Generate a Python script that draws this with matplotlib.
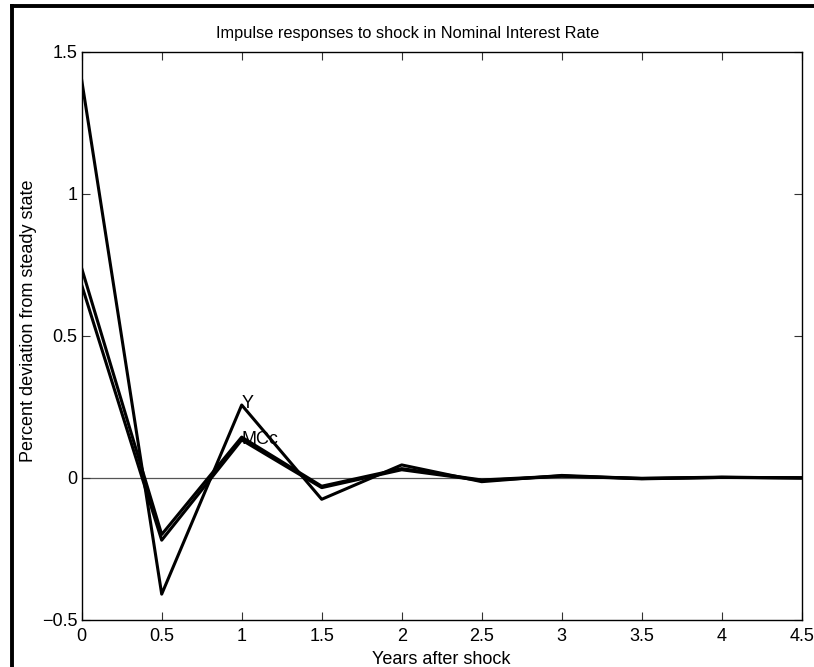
import matplotlib.pyplot as plt
from matplotlib.lines import Line2D

# --- data
years = [0, 0.5, 1, 1.5, 2, 2.5, 3, 3.5, 4, 4.5]
resp_y = [1.40, -0.41, 0.256, -0.076, 0.045, -0.014, 0.008, -0.003, 0.001, 0.000]
resp_mcc = [0.737, -0.20, 0.143, -0.030, 0.032, -0.008, 0.006, -0.004, 0.001, -0.001]
resp_mc = [0.678, -0.22, 0.133, -0.035, 0.028, -0.010, 0.005, -0.002, 0.002, -0.001]

xticks = [0, 0.5, 1, 1.5, 2, 2.5, 3, 3.5, 4, 4.5]
xticklabels = ["0", "0.5", "1", "1.5", "2", "2.5", "3", "3.5", "4", "4.5"]
yticks = [-0.5, 0, 0.5, 1, 1.5]
yticklabels = ["\u22120.5", "0", "0.5", "1", "1.5"]

plt.rcParams["font.family"] = ["Liberation Sans", "DejaVu Sans"]

fig = plt.figure(figsize=(8.14, 6.67), dpi=100)
W, H = 814, 667
ax = fig.add_axes([81.7 / W, 1 - 619.7 / H, (801.7 - 81.7) / W, (619.7 - 51.7) / H])

# zero line
ax.plot([0, 4.5], [0, 0], color="#555555", linewidth=0.9, zorder=1)

for series in (resp_y, resp_mcc, resp_mc):
    ax.plot(years, series, color="black", linewidth=2.2, zorder=2)

ax.text(years[2], resp_y[2] + 0.005, "Y", fontsize=13, va="center", ha="left")
ax.text(years[2], resp_mc[2] + 0.003, "MCc", fontsize=13, va="center", ha="left")

ax.set_xlim(0, 4.5)
ax.set_ylim(-0.5, 1.5)
ax.set_xticks(xticks)
ax.set_xticklabels(xticklabels)
ax.set_yticks(yticks)
ax.set_yticklabels(yticklabels)
ax.tick_params(direction="in", length=6, width=0.8, top=True, right=True,
               labelsize=13, color="#333333")
ax.tick_params(axis="x", pad=6)
ax.tick_params(axis="y", pad=3)
for side in ax.spines.values():
    side.set_linewidth(1.0)

ax.set_title("Impulse responses to shock in Nominal Interest Rate", fontsize=11.8,
             x=0.452, pad=10)
ax.set_xlabel("Years after shock", fontsize=13, labelpad=4)
ax.set_ylabel("Percent deviation from steady state", fontsize=13)
ax.yaxis.set_label_coords(-0.062, 0.526)

# outer frame that shows at the left and top edges of the picture
fig.add_artist(Line2D([12 / W, 12 / W], [0, 1 - 6 / H], color="black", linewidth=2.8,
                      transform=fig.transFigure))
fig.add_artist(Line2D([12 / W, 1], [1 - 6 / H, 1 - 6 / H], color="black", linewidth=2.8,
                      transform=fig.transFigure))

fig.savefig("out.png", dpi=100)
